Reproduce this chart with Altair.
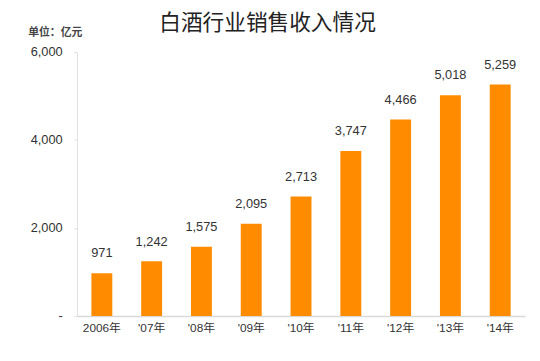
import altair as alt
import pandas as pd

years = ["2006年", "'07年", "'08年", "'09年", "'10年", "'11年", "'12年", "'13年", "'14年"]
revenue = [971, 1242, 1575, 2095, 2713, 3747, 4466, 5018, 5259]
y_ticks = [0, 2000, 4000, 6000]

df = pd.DataFrame({"year": years, "revenue": revenue})

FONT = "Liberation Sans, Noto Sans CJK SC, sans-serif"

base = alt.Chart(df).encode(
    x=alt.X("year:N", sort=years,
            scale=alt.Scale(paddingInner=0.58, paddingOuter=0.29),
            axis=alt.Axis(title=None, labelAngle=0, ticks=False, labelPadding=7,
                          labelFontSize=12, labelColor="#333333", labelFont=FONT,
                          domainColor="#d9d9d9", domainWidth=1.5)),
    y=alt.Y("revenue:Q", scale=alt.Scale(domain=[0, 6000]),
            axis=alt.Axis(values=y_ticks, grid=False,
                          labelExpr="datum.value == 0 ? '-' : format(datum.value, ',')",
                          labelFontSize=13, labelColor="#333333", labelFont=FONT,
                          labelPadding=12, tickSize=3, tickColor="#e0e0e0",
                          domainColor="#e0e0e0",
                          title="单位：亿元", titleAngle=0, titleX=-50, titleY=-20,
                          titleAlign="left", titleBaseline="middle",
                          titleFontSize=11, titleFont="Noto Sans CJK SC",
                          titleFontWeight="bold", titleColor="#444444")),
)

bars = base.mark_bar(color="#FF8C00")
labels = base.mark_text(baseline="bottom", dy=-13, fontSize=13, color="#333333", font=FONT).encode(
    text=alt.Text("revenue:Q", format=",")
)

chart = (bars + labels).properties(
    width=455, height=268,
    autosize=alt.AutoSizeParams(type="none"),
    padding={"left": 70, "top": 42, "right": 7, "bottom": 35},
    title=alt.TitleParams("白酒行业销售收入情况", fontSize=22, font="Noto Sans CJK SC",
                          fontWeight="normal", color="#222222", anchor="middle",
                          offset=-9, dx=-34),
).configure_view(stroke=None)

chart.save("out.html", embed_options={"renderer": "svg", "actions": False})
